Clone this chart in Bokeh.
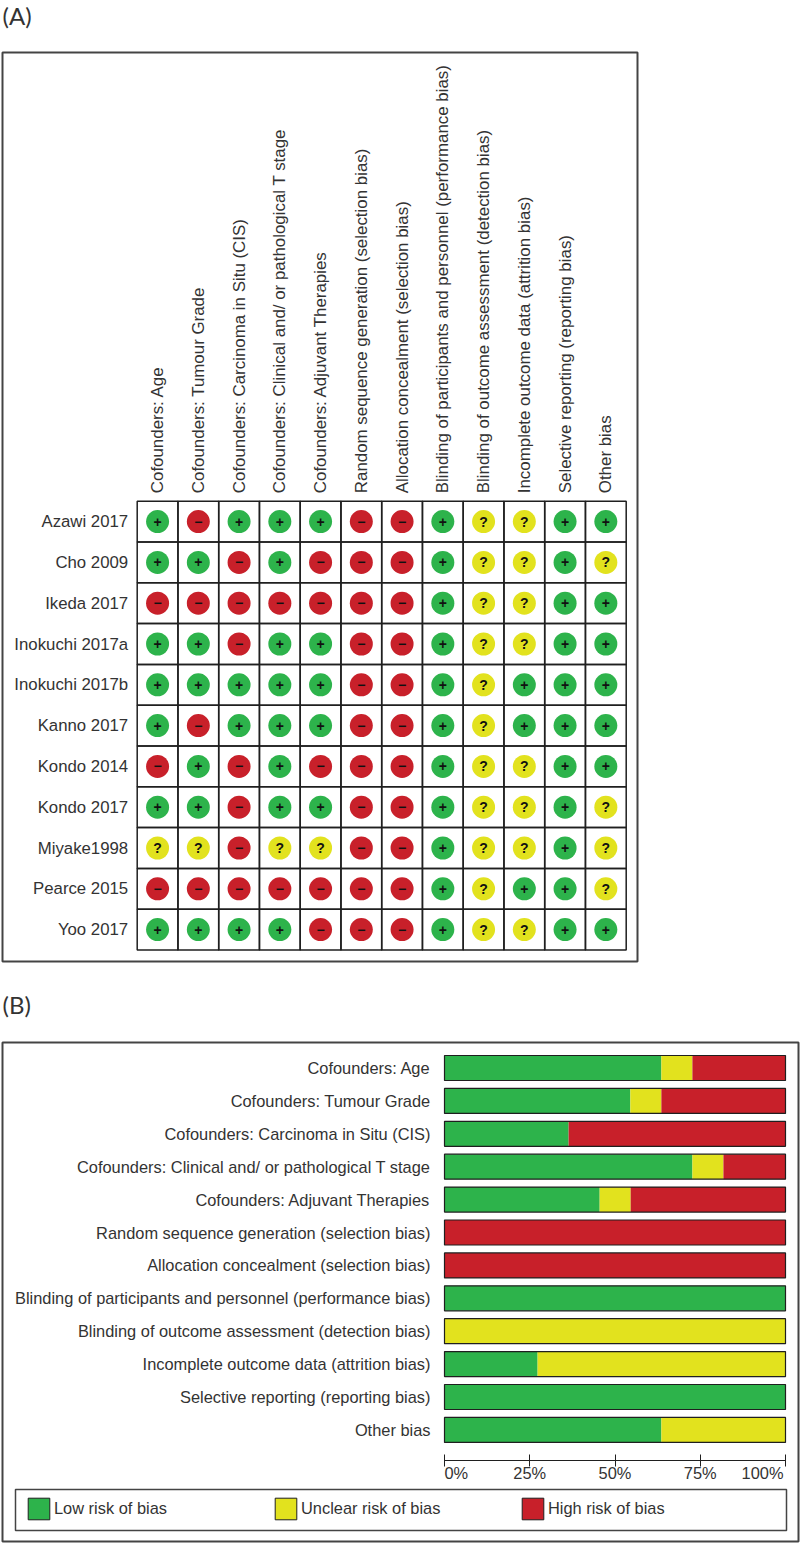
from bokeh.plotting import figure
from bokeh.models import (ColumnDataSource, Range1d, Label, Legend, LegendItem, FixedTicker,
                          LinearAxis)
from bokeh.core.properties import value
from bokeh.embed import file_html
from bokeh.resources import INLINE

domains = ["Cofounders: Age", "Cofounders: Tumour Grade", "Cofounders: Carcinoma in Situ (CIS)",
           "Cofounders: Clinical and/ or pathological T stage", "Cofounders: Adjuvant Therapies",
           "Random sequence generation (selection bias)", "Allocation concealment (selection bias)",
           "Blinding of participants and personnel (performance bias)",
           "Blinding of outcome assessment (detection bias)", "Incomplete outcome data (attrition bias)",
           "Selective reporting (reporting bias)", "Other bias"]
studies = ["Azawi 2017", "Cho 2009", "Ikeda 2017", "Inokuchi 2017a", "Inokuchi 2017b", "Kanno 2017",
           "Kondo 2014", "Kondo 2017", "Miyake1998", "Pearce 2015", "Yoo 2017"]
judgements = ["+-+++--+??++", "++-+---+??+?", "-------+??++", "++-++--+??++", "+++++--+?+++",
              "+-+++--+?+++", "-+-+---+??++", "++-++--+??+?", "??-??--+??+?", "-------+?++?",
              "++++---+??++"]
low = [63.6, 54.5, 36.4, 72.7, 45.5, 0, 0, 100, 0, 27.3, 100, 63.6]
unclear = [9.1, 9.1, 0, 9.1, 9.1, 0, 0, 0, 100, 72.7, 0, 36.4]
high = [27.3, 36.4, 63.6, 18.2, 45.4, 100, 100, 0, 0, 0, 0, 0]
risk_names = ["Low risk of bias", "Unclear risk of bias", "High risk of bias"]
ticks = [0, 25, 50, 75, 100]
tick_labels = ["0%", "25%", "50%", "75%", "100%"]

GREEN, YELLOW, RED = "#2DB34B", "#E2E21E", "#C8202A"
INK, TEXT, FRAME = "#1f1f1f", "#333333", "#444444"
FONT = "Liberation Sans"
PANEL = "Lato"
colour = {"+": GREEN, "?": YELLOW, "-": RED}
symbol = {"+": "+", "?": "?", "-": "\u2212"}

W, H = 800, 1544
# layout of the two panels on the page, in pixels
A_LEFT, A_TOP, A_COL, A_ROW = 136.7, 500.7, 40.75, 40.8
B_LEFT, B_PX, B_TOP, B_ROW = 444.0, 3.41, 1067.5, 32.9

p = figure(width=W, height=H, output_backend="svg", toolbar_location=None,
           x_range=Range1d(0, W), y_range=Range1d(H, 0),
           x_axis_type=None, y_axis_type=None, min_border=0, outline_line_color=None,
           margin=0)
p.grid.visible = False
p.extra_x_ranges = {"ax": Range1d((0 - A_LEFT) / A_COL - 0.5, (W - A_LEFT) / A_COL - 0.5),
                    "bx": Range1d((0 - B_LEFT) / B_PX, (W - B_LEFT) / B_PX)}
p.extra_y_ranges = {"ay": Range1d((H - A_TOP) / A_ROW - 0.5, (0 - A_TOP) / A_ROW - 0.5),
                    "by": Range1d((H - B_TOP) / B_ROW, (0 - B_TOP) / B_ROW)}

# panel frames and letters
p.quad(left=[2, 2, 15], right=[637, 798, 786], top=[52, 1042, 1489], bottom=[961, 1541, 1530],
       fill_color=None, line_color=FRAME, line_width=[2, 2, 1.5])
p.text(x=[2, 2], y=[15, 1004], text=["(A)", "(B)"], text_baseline="middle", text_font=value(PANEL),
       text_font_size="24px", text_color=TEXT)

# ---------- (A) risk of bias summary ----------
xs, ys, cs, ss = [], [], [], []
for r, row in enumerate(judgements):
    for c, j in enumerate(row):
        xs.append(c); ys.append(r); cs.append(colour[j]); ss.append(symbol[j])
src = ColumnDataSource(dict(x=xs, y=ys, c=cs, s=ss))
kw = dict(source=src, x_range_name="ax", y_range_name="ay")
p.rect("x", "y", 1, 1, fill_color=None, line_color=INK, line_width=1.5, **kw)
p.scatter("x", "y", size=23, fill_color="c", line_color=None, **kw)
p.text("x", "y", text="s", text_align="center", text_baseline="middle",
       text_font=value(FONT), text_font_size="14px", text_font_style="bold", text_color="#111111", **kw)

ax_top = LinearAxis(x_range_name="ax", y_range_name="ay", fixed_location=-0.5,
                    ticker=FixedTicker(ticks=list(range(len(domains)))),
                    major_label_overrides=dict(enumerate(domains)),
                    major_label_orientation=1.5708, major_label_standoff=2,
                    major_label_text_font=FONT, major_label_text_font_size="16.9px", major_label_text_color=TEXT,
                    axis_line_color=None, major_tick_line_color=None, minor_tick_line_color=None)
p.add_layout(ax_top, "above")
ax_left = LinearAxis(x_range_name="ax", y_range_name="ay", fixed_location=-0.5,
                     ticker=FixedTicker(ticks=list(range(len(studies)))),
                     major_label_overrides=dict(enumerate(studies)),
                     major_label_standoff=3,
                     major_label_text_font=FONT, major_label_text_font_size="16.8px", major_label_text_color=TEXT,
                     axis_line_color=None, major_tick_line_color=None, minor_tick_line_color=None)
p.add_layout(ax_left, "left")

# ---------- (B) risk of bias graph ----------
rows = list(range(len(domains)))
bsrc = ColumnDataSource(dict(y=rows, low=low, unclear=unclear, high=high, left=[0] * len(rows),
                             total=[l + u + h for l, u, h in zip(low, unclear, high)]))
bk = dict(x_range_name="bx", y_range_name="by")
p.hbar_stack(["low", "unclear", "high"], y="y", height=0.76, source=bsrc,
             color=[GREEN, YELLOW, RED], line_color=None, **bk)
p.hbar(y="y", left="left", right="total", height=0.76, source=bsrc, fill_color=None,
       line_color=INK, line_width=1.2, **bk)

by_axis = (1460 - B_TOP) / B_ROW
ax_b = LinearAxis(x_range_name="bx", y_range_name="by", fixed_location=by_axis,
                  ticker=FixedTicker(ticks=ticks),
                  major_label_overrides={t: (l if 0 < t < 100 else "") for t, l in zip(ticks, tick_labels)},
                  major_tick_in=6, major_tick_out=6, major_label_standoff=-3,
                  major_label_text_font=FONT, major_label_text_font_size="16.4px", major_label_text_color=TEXT,
                  axis_line_color=INK, major_tick_line_color=INK, minor_tick_line_color=None)
ax_b.bounds = (0, 100)
p.add_layout(ax_b, "below")
ay_b = LinearAxis(x_range_name="bx", y_range_name="by", fixed_location=0,
                  ticker=FixedTicker(ticks=rows), major_label_overrides=dict(enumerate(domains)),
                  major_label_standoff=8,
                  major_label_text_font=FONT, major_label_text_font_size="16.4px", major_label_text_color=TEXT,
                  axis_line_color=None, major_tick_line_color=None, minor_tick_line_color=None)
p.add_layout(ay_b, "left")
for t, l, align, off in [(ticks[0], tick_labels[0], "left", 0), (ticks[-1], tick_labels[-1], "right", -2)]:
    p.add_layout(Label(x=t, y=1472.5, x_range_name="bx", x_offset=off, text=l, text_align=align,
                       text_baseline="middle", text_font=FONT, text_font_size="16.4px", text_color=TEXT))

# legend swatches are outlined, the bars' segments are not: they key off-canvas marks
keys = ColumnDataSource(dict(x=[-100], y=[-100]))
sw = [p.rect("x", "y", 1, 1, source=keys, fill_color=c, line_color=INK, line_width=1)
      for c in (GREEN, YELLOW, RED)]
legend = Legend(items=[LegendItem(label=n, renderers=[r]) for n, r in zip(risk_names, sw)],
                orientation="horizontal", location=(25, 22), spacing=0, margin=0,
                glyph_width=27, glyph_height=27, label_standoff=2, label_width=218,
                border_line_color=None, background_fill_color=None,
                label_text_font=FONT, label_text_font_size="16.4px", label_text_color=TEXT)
p.add_layout(legend, "center")

open("out.html", "w").write(file_html(p, INLINE))
